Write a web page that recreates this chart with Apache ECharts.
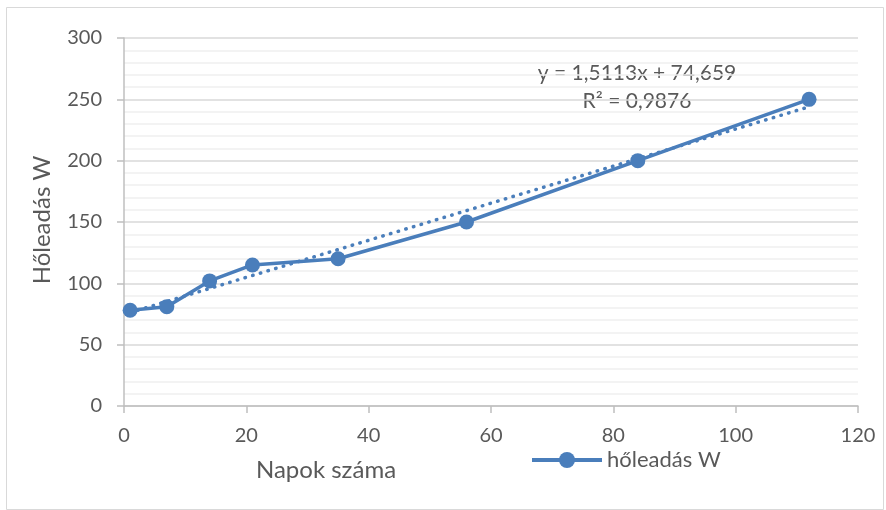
<!DOCTYPE html>
<html>
<head>
<meta charset="utf-8">
<script src="https://cdn.jsdelivr.net/npm/echarts@6/dist/echarts.min.js"></script>
<style>
html,body{margin:0;padding:0;background:#fff;}
#c{width:886px;height:510px;}
</style>
</head>
<body>
<div id="c"></div>
<script>
const days = [1, 7, 14, 21, 35, 56, 84, 112];
const heat = [78, 81, 102, 115, 120, 150, 200, 250];
const seriesName = 'hőleadás W';
const trendSlope = 1.5113;
const trendIntercept = 74.659;
const trendText = ['y = 1,5113x + 74,659', 'R² = 0,9876'];
const xTitle = 'Napok száma';
const yTitle = 'Hőleadás W';

const FONT = 'Lato';
const TXT = '#595959';
const BLUE = '#4A7EBB';

const chart = echarts.init(document.getElementById('c'), null, {renderer: 'canvas'});
const xs = [days[0], days[days.length - 1]];
const trendData = xs.map(x => [x, trendSlope * x + trendIntercept]);

chart.setOption({
  animation: false,
  backgroundColor: '#fff',
  textStyle: {fontFamily: FONT, color: TXT},
  grid: {left: 124, right: 28, top: 38, bottom: 104, containLabel: false},
  xAxis: {
    type: 'value', min: 0, max: 120, interval: 20,
    axisLine: {show: true, lineStyle: {color: '#BFBFBF', width: 1.5}},
    axisTick: {show: true, length: 7, lineStyle: {color: '#BFBFBF', width: 1.5}},
    axisLabel: {fontFamily: FONT, fontSize: 20, color: TXT, margin: 20},
    splitLine: {show: false}
  },
  yAxis: {
    type: 'value', min: 0, max: 300, interval: 50,
    axisLine: {show: true, lineStyle: {color: '#BFBFBF', width: 1.5}},
    axisTick: {show: true, length: 7, lineStyle: {color: '#BFBFBF', width: 1.5}},
    axisLabel: {fontFamily: FONT, fontSize: 20, color: TXT, margin: 22},
    splitLine: {show: true, lineStyle: {color: '#D9D9D9', width: 1.5}},
    minorTick: {show: false, splitNumber: 5},
    minorSplitLine: {show: true, lineStyle: {color: '#F0F0F0', width: 1.5}}
  },
  legend: {
    data: [{name: seriesName}],
    left: 525, top: 444,
    itemWidth: 70, itemHeight: 20, itemGap: 4,
    lineStyle: {width: 4},
    textStyle: {fontFamily: FONT, fontSize: 22, color: TXT, lineHeight: 22, padding: [0, 0, 0, 0]}
  },
  graphic: [
    {type: 'rect', left: 4, top: 5, shape: {width: 877, height: 502},
     style: {fill: 'none', stroke: '#D9D9D9', lineWidth: 1}, silent: true},
    {type: 'text', x: 326, y: 470, style: {text: xTitle, fontFamily: FONT, fontSize: 24, fill: TXT, textAlign: 'center', textVerticalAlign: 'middle'}},
    {type: 'text', x: 42, y: 220, rotation: Math.PI / 2, style: {text: yTitle, fontFamily: FONT, fontSize: 24, fill: TXT, textAlign: 'center', textVerticalAlign: 'middle'}},
    {type: 'text', x: 637, y: 73, style: {text: trendText[0], fontFamily: FONT, fontSize: 21, fill: TXT, textAlign: 'center', textVerticalAlign: 'middle'}},
    {type: 'text', x: 637, y: 101, style: {text: trendText[1], fontFamily: FONT, fontSize: 21, fill: TXT, textAlign: 'center', textVerticalAlign: 'middle'}}
  ],
  series: [
    {
      name: 'trend', type: 'line', data: trendData, showSymbol: false, symbol: 'none',
      lineStyle: {color: BLUE, width: 3.5, type: [0.5, 7.5], cap: 'round'}, z: 2, silent: true
    },
    {
      name: seriesName, type: 'line', data: days.map((d, i) => [d, heat[i]]),
      symbol: 'circle', symbolSize: 15,
      itemStyle: {color: BLUE},
      lineStyle: {color: BLUE, width: 3.5}, z: 3
    }
  ]
});
</script>
</body>
</html>
